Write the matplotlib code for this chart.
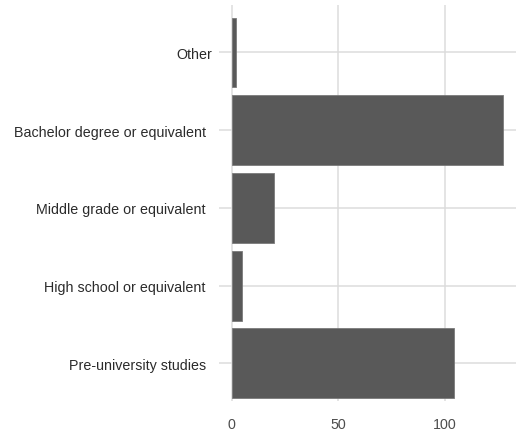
import matplotlib
matplotlib.use("Agg")
import matplotlib.pyplot as plt
import matplotlib.transforms as mtransforms

categories = ["Pre-university studies", "High school or equivalent",
              "Middle grade or equivalent", "Bachelor degree or equivalent", "Other"]
counts = [104, 5, 20, 127, 2]
xticks = [0, 50, 100]

plt.rcParams['font.family'] = ['Liberation Sans', 'DejaVu Sans']

fig = plt.figure(figsize=(5.17, 4.35), dpi=100)
W, H = 517, 435
left, right, top, bottom = 219, 516, 6, 402
ax = fig.add_axes([left / W, 1 - bottom / H, (right - left) / W, (bottom - top) / H])

pos = list(range(len(categories)))
ax.barh(pos, counts, height=0.9, color='#595959', edgecolor='#7a7a7a', linewidth=0.6, zorder=2)

ax.set_xlim(-5.95, 133.2)
ax.set_ylim(-0.486, 4.611)
ax.set_yticks(pos)
ax.set_yticklabels(categories)
ax.set_xticks(xticks)
ax.set_xticklabels([str(t) for t in xticks])

ax.grid(True, color='#dcdcdc', linewidth=1.1, zorder=0)
ax.set_axisbelow(True)
for s in ax.spines.values():
    s.set_visible(False)
ax.tick_params(axis='both', length=0, labelsize=10.3, colors='#4d4d4d')
ax.tick_params(axis='y', pad=9.5, labelcolor='#2b2b2b')
ax.tick_params(axis='x', pad=11.5)

# reference places the "Other" label slightly closer to the panel
lab = ax.get_yticklabels()[-1]
lab.set_transform(lab.get_transform() + mtransforms.ScaledTranslation(6 / 100, 0, fig.dpi_scale_trans))

fig.savefig("out.png", dpi=100, facecolor='white')
